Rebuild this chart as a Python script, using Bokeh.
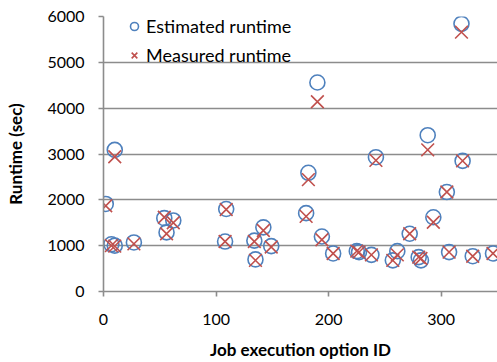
from bokeh.plotting import figure
from bokeh.models import Range1d, FixedTicker, Legend, LegendItem, ColumnDataSource
from bokeh.embed import file_html
from bokeh.resources import INLINE

# Job execution option IDs
job_id = [2, 7, 10, 10, 27, 54, 56, 62, 108, 109, 134, 135, 142, 149,
          180, 182, 190, 194, 204, 225, 227, 238, 242, 257, 261, 272,
          280, 282, 288, 293, 305, 307, 318, 319, 328, 346]
# Estimated runtime (sec)
estimated = [1910, 1030, 1000, 3090, 1070, 1600, 1290, 1550, 1090, 1800, 1110, 700, 1400, 990,
             1710, 2590, 4560, 1200, 830, 880, 860, 800, 2930, 680, 880, 1260,
             750, 680, 3410, 1620, 2170, 860, 5840, 2850, 770, 830]
# Measured runtime (sec)
measured = [1870, 1000, 990, 2940, 1040, 1620, 1260, 1500, 1090, 1790, 1090, 680, 1330, 970,
            1640, 2440, 4140, 1130, 830, 880, 860, 800, 2860, 680, 800, 1260,
            750, 720, 3090, 1510, 2170, 860, 5660, 2850, 770, 830]

x_ticks = [0, 100, 200, 300]
y_ticks = [0, 1000, 2000, 3000, 4000, 5000, 6000]

FONT = "Lato"
GRID = "#8c8c8c"

src = ColumnDataSource(dict(x=job_id, est=estimated, mea=measured))

p = figure(width=497, height=362, output_backend="svg", toolbar_location=None,
           x_range=Range1d(0, 350), y_range=Range1d(0, 6000),
           min_border_left=103, min_border_right=0, min_border_top=16, min_border_bottom=70)
p.outline_line_color = None
p.background_fill_color = "white"

p.xgrid.grid_line_color = None
p.ygrid.grid_line_color = GRID
p.ygrid.grid_line_width = 1.6
p.ygrid.ticker = FixedTicker(ticks=y_ticks)

for ax in (p.xaxis[0], p.yaxis[0]):
    ax.axis_line_color = GRID
    ax.axis_line_width = 1.6
    ax.major_tick_line_color = GRID
    ax.major_tick_line_width = 1.6
    ax.major_tick_out = 5
    ax.major_tick_in = 0
    ax.minor_tick_line_color = None
    ax.major_label_text_font = FONT
    ax.major_label_text_font_size = "16px"
    ax.major_label_text_color = "#000000"
    ax.axis_label_text_font = FONT
    ax.axis_label_text_font_size = "17px"
    ax.axis_label_text_font_style = "bold"
    ax.axis_label_text_color = "#000000"

p.xaxis.ticker = FixedTicker(ticks=x_ticks)
p.yaxis.ticker = FixedTicker(ticks=y_ticks)
p.xaxis.major_label_standoff = 17
p.yaxis.major_label_standoff = 14
p.xaxis.axis_label = "Job execution option ID"
p.yaxis.axis_label = "Runtime (sec)"
p.xaxis.axis_label_standoff = 11
p.yaxis.axis_label_standoff = 18

r_est = p.scatter("x", "est", source=src, marker="circle", size=15,
                  fill_color=None, line_color="#4F81BD", line_width=1.6)
r_mea = p.scatter("x", "mea", source=src, marker="x", size=18,
                  line_color="#C0504D", line_width=1.6)

legend = Legend(items=[LegendItem(label="Estimated runtime", renderers=[r_est]),
                       LegendItem(label="Measured runtime", renderers=[r_mea])],
                location=(21, 225), orientation="vertical")
legend.margin = 0
legend.padding = 0
legend.spacing = 7
legend.glyph_width = 20
legend.glyph_height = 20
legend.label_standoff = 2
legend.label_text_font = FONT
legend.label_text_font_size = "18px"
legend.label_text_color = "#000000"
legend.border_line_color = None
legend.background_fill_alpha = 0
p.add_layout(legend)

open("out.html", "w").write(file_html(p, INLINE))
